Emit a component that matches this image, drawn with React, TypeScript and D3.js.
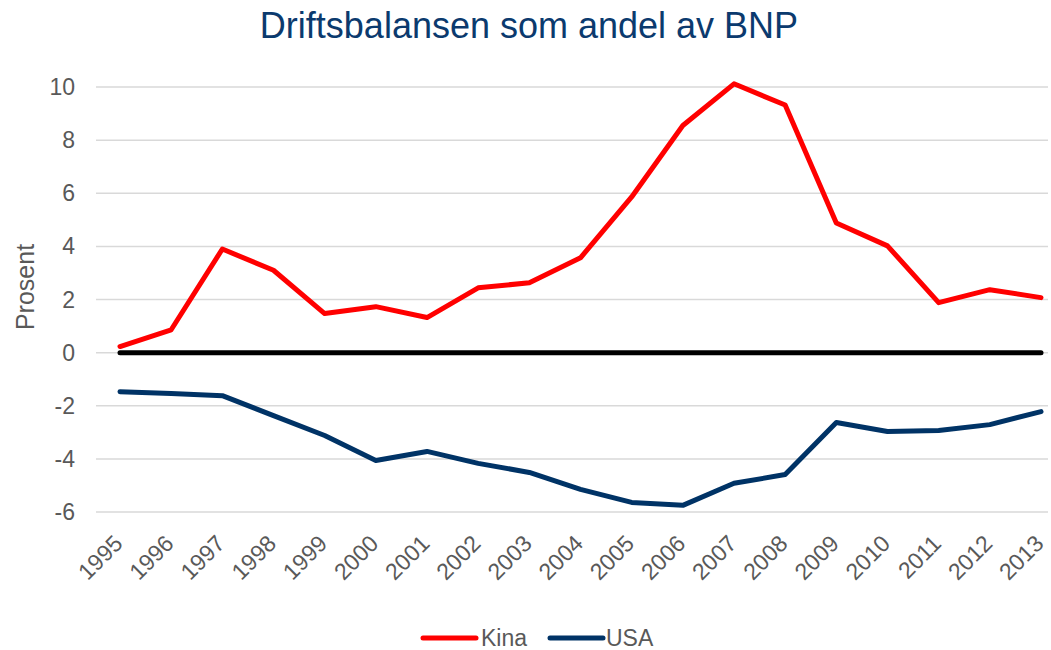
import React from 'react';
import { scaleLinear, line } from 'd3';

const years = [1995, 1996, 1997, 1998, 1999, 2000, 2001, 2002, 2003, 2004, 2005, 2006, 2007, 2008, 2009, 2010, 2011, 2012, 2013];
const kina = [0.23, 0.86, 3.9, 3.1, 1.47, 1.73, 1.32, 2.44, 2.63, 3.57, 5.86, 8.55, 10.12, 9.32, 4.88, 4.02, 1.88, 2.37, 2.07];
const usa = [-1.47, -1.54, -1.62, -2.37, -3.12, -4.06, -3.72, -4.17, -4.51, -5.15, -5.64, -5.75, -4.92, -4.59, -2.63, -2.97, -2.93, -2.71, -2.22];
const yTicks = [-6, -4, -2, 0, 2, 4, 6, 8, 10];

const font = 'Arial, "Liberation Sans", sans-serif';

const App: React.FC = () => {
  const width = 1051;
  const height = 650;

  const xScale = scaleLinear([1995, 2013], [120, 1041]);
  const yScale = scaleLinear([-6, 10], [512, 87]);

  const lineGen = line<number>().x((d, i) => xScale(years[i])).y(d => yScale(d));

  return (
    <svg width={width} height={height} style={{ position: 'absolute', left: 0, top: 0 }} fontFamily={font}>
      <rect width={width} height={height} fill="#fff" />
      <text x={529} y={38} textAnchor="middle" fontSize={36} fill="#0b3a6e">Driftsbalansen som andel av BNP</text>

      {yTicks.map(t => (
        <g key={t}>
          <line x1={96} x2={1048} y1={yScale(t)} y2={yScale(t)} stroke="#d9d9d9" strokeWidth={1.5} />
          <text x={75} y={yScale(t)} dy="0.35em" textAnchor="end" fontSize={23} fill="#595959">{t}</text>
        </g>
      ))}

      <text transform="translate(34,287) rotate(-90)" textAnchor="middle" fontSize={25} fill="#595959">Prosent</text>

      {years.map(y => (
        <text key={y} transform={`translate(${xScale(y) + 4},${545}) rotate(-45)`} textAnchor="end" fontSize={23} fill="#595959">{y}</text>
      ))}

      <line x1={xScale(1995)} x2={xScale(2013)} y1={yScale(0)} y2={yScale(0)} stroke="#000" strokeWidth={5} strokeLinecap="round" />

      <path d={lineGen(kina) ?? ''} fill="none" stroke="#ff0000" strokeWidth={5} strokeLinejoin="round" strokeLinecap="round" />
      <path d={lineGen(usa) ?? ''} fill="none" stroke="#003366" strokeWidth={5} strokeLinejoin="round" strokeLinecap="round" />

      <g>
        <line x1={423} x2={476} y1={638} y2={638} stroke="#ff0000" strokeWidth={5} strokeLinecap="round" />
        <text x={481} y={638} dy="0.35em" fontSize={23} fill="#595959">Kina</text>
        <line x1={550} x2={603} y1={638} y2={638} stroke="#003366" strokeWidth={5} strokeLinecap="round" />
        <text x={606} y={638} dy="0.35em" fontSize={23} fill="#595959">USA</text>
      </g>
    </svg>
  );
};

export default App;
